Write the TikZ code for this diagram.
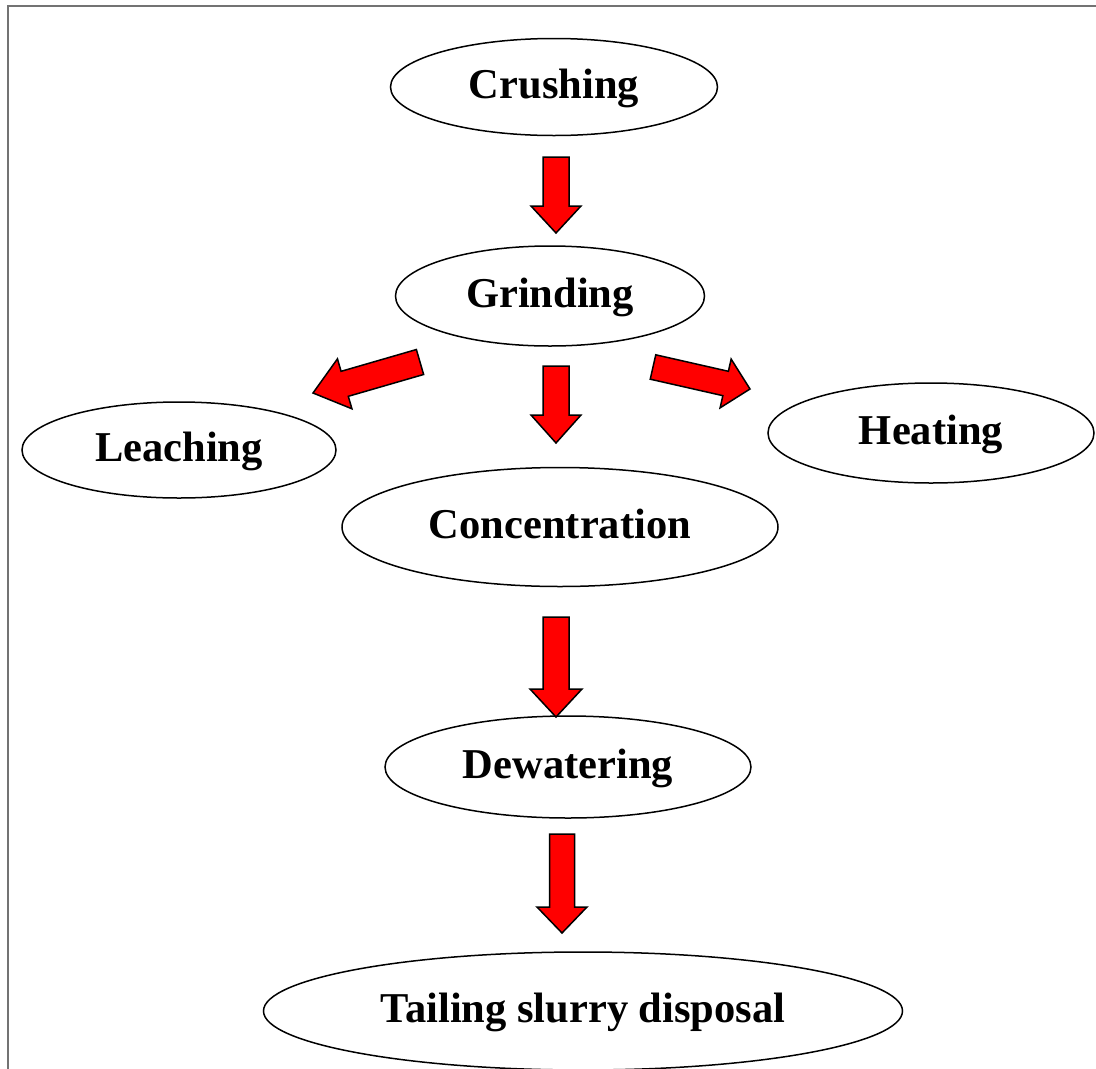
\documentclass[tikz,border=0pt]{standalone}
\usepackage{fontspec}
\setmainfont{Liberation Serif}
\usetikzlibrary{shapes.geometric,calc}
\tikzset{
  stage/.style={draw=black, line width=1.5pt, ellipse, inner sep=0pt,
    text height=22pt, text depth=0pt,
    font=\fontsize{42.5}{50}\selectfont\bfseries},
  barrow/.style={draw=black, fill=red, line width=1.5pt, line join=miter},
  frameline/.style={draw=black!55, line width=2pt}
}
\newcommand\blockarrow[5]{% tail, tip, half shaft, half head, head length
  \path ($(#2)!#5!(#1)$) coordinate (hb);
  \draw[barrow] ($(#1)!#3!90:(#2)$) -- ($(hb)!#3!90:(#2)$) -- ($(hb)!#4!90:(#2)$)
    -- (#2) -- ($(hb)!#4!-90:(#2)$) -- ($(hb)!#3!-90:(#2)$) -- ($(#1)!#3!-90:(#2)$) -- cycle;}
\begin{document}
\begin{tikzpicture}[x=1pt,y=-1pt]
\useasboundingbox (0,0) rectangle (1096,1069);
\draw[frameline] (8,1069) -- (8,5.5) -- (1096,5.5);
\node[stage, minimum width=327pt, minimum height=97pt] (crush) at (554,87) {Crushing};
\node[stage, minimum width=309pt, minimum height=100pt] (grind) at (550,296) {Grinding};
\node[stage, minimum width=314pt, minimum height=96pt] (leach) at (179,450) {Leaching};
\node[stage, minimum width=326pt, minimum height=100pt] (heat) at (931,433) {Heating};
\node[stage, minimum width=436pt, minimum height=119pt] (conc) at (560,527) {Concentration};
\node[stage, minimum width=366pt, minimum height=102pt] (dewat) at (568,767) {Dewatering};
\node[stage, minimum width=639pt, minimum height=118pt] (tail) at (583,1011) {Tailing slurry disposal};
% block arrows
\coordinate (a1t) at (556,157); \coordinate (a1h) at (556,233);
\coordinate (a2t) at (556,366); \coordinate (a2h) at (556,443);
\coordinate (a3t) at (420,362); \coordinate (a3h) at (313,393);
\coordinate (a4t) at (653,367); \coordinate (a4h) at (750,389);
\coordinate (a5t) at (556,617); \coordinate (a5h) at (556,717);
\coordinate (a6t) at (562,834); \coordinate (a6h) at (562,933);
\blockarrow{a1t}{a1h}{13pt}{25pt}{27pt}
\blockarrow{a2t}{a2h}{13pt}{25pt}{28pt}
\blockarrow{a3t}{a3h}{13pt}{26pt}{33pt}
\blockarrow{a4t}{a4h}{12.5pt}{25pt}{25pt}
\blockarrow{a5t}{a5h}{13pt}{26pt}{28pt}
\blockarrow{a6t}{a6h}{12.5pt}{25pt}{26pt}
\end{tikzpicture}
\end{document}
